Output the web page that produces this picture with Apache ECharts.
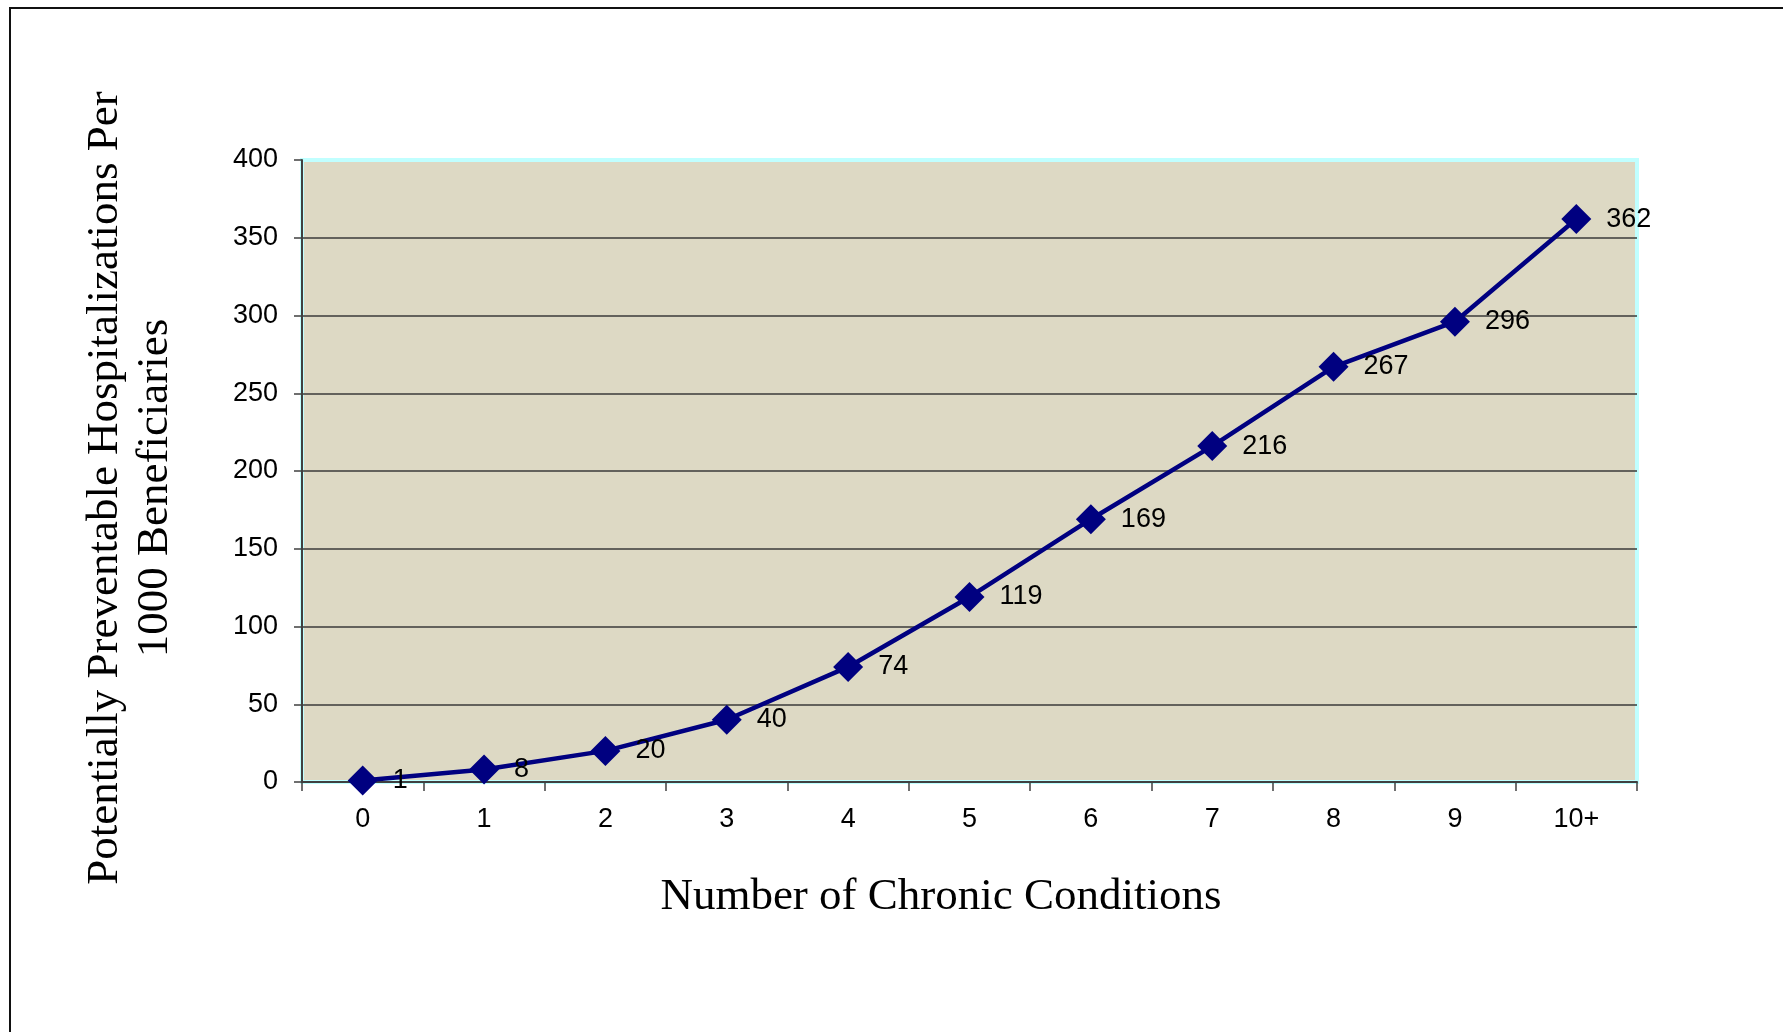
<!DOCTYPE html>
<html>
<head>
<meta charset="utf-8">
<title>Potentially Preventable Hospitalizations</title>
<script src="https://cdn.jsdelivr.net/npm/echarts@6/dist/echarts.min.js"></script>
<style>
  html, body { margin: 0; padding: 0; background: #ffffff; }
  #chart { width: 1783px; height: 1032px; }
</style>
</head>
<body>
<div id="chart"></div>
<script>
// Number of chronic conditions (x categories)
const conditions = ['0', '1', '2', '3', '4', '5', '6', '7', '8', '9', '10+'];
// Potentially preventable hospitalizations per 1000 beneficiaries
const hospitalizations = [1, 8, 20, 40, 74, 119, 169, 216, 267, 296, 362];
// Value axis range
const yMin = 0;
const yMax = 400;
const yStep = 50;

const xTitle = 'Number of Chronic Conditions';
const yTitle = 'Potentially Preventable Hospitalizations Per\n1000 Beneficiaries';

const sans = '"Liberation Sans", Arial, sans-serif';
const serif = '"Liberation Serif", "Times New Roman", serif';

const chart = echarts.init(document.getElementById('chart'), null, { renderer: 'canvas' });

chart.setOption({
  backgroundColor: '#ffffff',
  animation: false,
  grid: {
    left: 302,
    right: 146,
    top: 160,
    bottom: 250,
    show: true,
    backgroundColor: '#DDD9C4',
    borderColor: '#C0FFFF',
    borderWidth: 4
  },
  xAxis: {
    type: 'category',
    data: conditions,
    boundaryGap: true,
    axisLine: { show: true, lineStyle: { color: '#404040', width: 2 } },
    axisTick: { show: true, inside: false, length: 9, alignWithLabel: false, lineStyle: { color: '#404040', width: 1.5 } },
    axisLabel: { color: '#000000', fontFamily: sans, fontSize: 27, margin: 24 },
    splitLine: { show: false }
  },
  yAxis: {
    type: 'value',
    min: yMin,
    max: yMax,
    interval: yStep,
    axisLine: { show: true, lineStyle: { color: '#404040', width: 2 } },
    axisTick: { show: true, inside: false, length: 8, lineStyle: { color: '#404040', width: 1.5 } },
    axisLabel: { color: '#000000', fontFamily: sans, fontSize: 27, margin: 24 },
    splitLine: { show: true, showMaxLine: false, lineStyle: { color: '#3a3a3a', width: 1.5 } }
  },
  series: [{
    type: 'line',
    data: hospitalizations,
    symbol: 'diamond',
    symbolSize: 30,
    showAllSymbol: true,
    lineStyle: { color: '#000080', width: 4.5 },
    itemStyle: { color: '#000080' },
    label: {
      show: true,
      position: 'right',
      distance: 15,
      color: '#000000',
      fontFamily: sans,
      fontSize: 27
    },
    z: 5
  }],
  graphic: [
    {
      type: 'rect',
      silent: true,
      shape: { x: 10, y: 8, width: 1900, height: 1200 },
      style: { fill: 'none', stroke: '#111111', lineWidth: 2 }
    },
    {
      type: 'text',
      silent: true,
      x: 941,
      y: 897,
      style: {
        text: xTitle,
        font: '45px ' + serif,
        fill: '#000000',
        align: 'center',
        verticalAlign: 'middle'
      }
    },
    {
      type: 'text',
      silent: true,
      x: 130,
      y: 488,
      rotation: Math.PI / 2,
      style: {
        text: yTitle,
        font: '45px ' + serif,
        lineHeight: 50,
        fill: '#000000',
        align: 'center',
        verticalAlign: 'middle'
      }
    }
  ]
});
</script>
</body>
</html>
